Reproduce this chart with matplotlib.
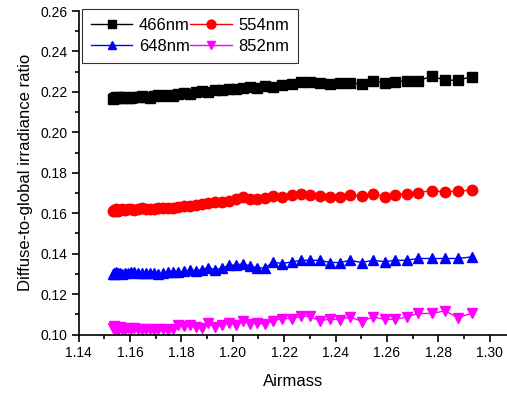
"""Diffuse-to-global irradiance ratio vs airmass for four wavelengths."""

import matplotlib
matplotlib.use("Agg")
import matplotlib.pyplot as plt
from matplotlib.ticker import MultipleLocator

plt.rcParams["font.family"] = ["Liberation Sans", "DejaVu Sans"]

# airmass values (shared by all series)
airmass = [
    1.1534, 1.1538, 1.1542, 1.1545, 1.1553, 1.1561, 1.1569, 1.1580, 1.1592,
    1.1604, 1.1616, 1.1631, 1.1647, 1.1662, 1.1678, 1.1693, 1.1709, 1.1728,
    1.1748, 1.1767, 1.1787, 1.1810, 1.1833, 1.1857, 1.1880, 1.1903, 1.1931,
    1.1958, 1.1985, 1.2013, 1.2040, 1.2067, 1.2094, 1.2125, 1.2156, 1.2191,
    1.2230, 1.2265, 1.2300, 1.2339, 1.2378, 1.2417, 1.2456, 1.2502, 1.2545,
    1.2592, 1.2631, 1.2677, 1.2720, 1.2775, 1.2825, 1.2876, 1.2930,
]

ratio_466 = [
    0.2165, 0.2172, 0.2168, 0.2175, 0.2170, 0.2173, 0.2168, 0.2175, 0.2172,
    0.2170, 0.2176, 0.2173, 0.2178, 0.2175, 0.2172, 0.2180, 0.2183, 0.2178,
    0.2185, 0.2182, 0.2190, 0.2193, 0.2188, 0.2198, 0.2202, 0.2200, 0.2207,
    0.2210, 0.2215, 0.2212, 0.2220, 0.2225, 0.2220, 0.2228, 0.2225, 0.2232,
    0.2238, 0.2248, 0.2250, 0.2245, 0.2239, 0.2242, 0.2245, 0.2239, 0.2255,
    0.2245, 0.2250, 0.2255, 0.2254, 0.2278, 0.2258, 0.2258, 0.2275,
]

ratio_554 = [
    0.1610, 0.1616, 0.1613, 0.1619, 0.1612, 0.1617, 0.1620, 0.1615, 0.1619,
    0.1622, 0.1617, 0.1621, 0.1624, 0.1620, 0.1623, 0.1622, 0.1626, 0.1624,
    0.1628, 0.1626, 0.1630, 0.1634, 0.1636, 0.1642, 0.1646, 0.1652, 0.1656,
    0.1654, 0.1660, 0.1670, 0.1678, 0.1672, 0.1668, 0.1673, 0.1686, 0.1680,
    0.1689, 0.1696, 0.1689, 0.1684, 0.1680, 0.1682, 0.1692, 0.1684, 0.1697,
    0.1682, 0.1692, 0.1697, 0.1702, 0.1712, 0.1705, 0.1710, 0.1714,
]

ratio_648 = [
    0.1298, 0.1305, 0.1300, 0.1308, 0.1302, 0.1305, 0.1300, 0.1306, 0.1303,
    0.1308, 0.1310, 0.1305, 0.1302, 0.1306, 0.1304, 0.1305, 0.1300, 0.1302,
    0.1307, 0.1310, 0.1309, 0.1312, 0.1318, 0.1316, 0.1321, 0.1331, 0.1321,
    0.1328, 0.1343, 0.1343, 0.1351, 0.1338, 0.1331, 0.1328, 0.1359, 0.1351,
    0.1359, 0.1367, 0.1367, 0.1367, 0.1356, 0.1356, 0.1367, 0.1356, 0.1367,
    0.1360, 0.1367, 0.1367, 0.1376, 0.1376, 0.1376, 0.1376, 0.1384,
]

ratio_852 = [
    0.1033, 0.1040, 0.1028, 0.1035, 0.1024, 0.1037, 0.1029, 0.1026, 0.1033,
    0.1025, 0.1030, 0.1026, 0.1021, 0.1028, 0.1026, 0.1024, 0.1027, 0.1026,
    0.1022, 0.1026, 0.1046, 0.1040, 0.1046, 0.1037, 0.1032, 0.1057, 0.1037,
    0.1046, 0.1057, 0.1046, 0.1067, 0.1054, 0.1057, 0.1051, 0.1067, 0.1079,
    0.1079, 0.1090, 0.1090, 0.1067, 0.1077, 0.1073, 0.1088, 0.1064, 0.1087,
    0.1075, 0.1075, 0.1087, 0.1104, 0.1104, 0.1117, 0.1084, 0.1105,
]

labels = ["466nm", "554nm", "648nm", "852nm"]

fig = plt.figure(figsize=(5.07, 3.94), dpi=100)
ax = fig.add_axes([0.155, 0.151, 0.845, 0.821])

l466, = ax.plot(airmass, ratio_466, color="black", marker="s", ms=6.5, lw=1, label=labels[0])
l554, = ax.plot(airmass, ratio_554, color="red", marker="o", ms=7.5, lw=1, label=labels[1])
l648, = ax.plot(airmass, ratio_648, color="blue", marker="^", ms=7.5, lw=1, label=labels[2])
l852, = ax.plot(airmass, ratio_852, color="magenta", marker="v", ms=7.5, lw=1, label=labels[3])

ax.set_xlim(1.14, 1.3067)
ax.set_ylim(0.10, 0.26)
ax.xaxis.set_major_locator(MultipleLocator(0.02))
ax.xaxis.set_minor_locator(MultipleLocator(0.01))
ax.yaxis.set_major_locator(MultipleLocator(0.02))
ax.yaxis.set_minor_locator(MultipleLocator(0.01))
ax.xaxis.set_major_formatter(plt.FormatStrFormatter("%.2f"))
ax.yaxis.set_major_formatter(plt.FormatStrFormatter("%.2f"))

ax.spines["top"].set_visible(False)
ax.spines["right"].set_visible(False)
ax.spines["left"].set_linewidth(1.2)
ax.spines["bottom"].set_linewidth(1.2)
ax.tick_params(which="major", direction="out", length=5, width=1.2, labelsize=10, pad=3)
ax.tick_params(which="minor", direction="out", length=3, width=1.2)

ax.set_xlabel("Airmass", fontsize=12, labelpad=10)
ax.set_ylabel("Diffuse-to-global irradiance ratio", fontsize=12, labelpad=5)

# legend fills column-wise, so order gives rows 466/554 and 648/852
handles = [l466, l648, l554, l852]
leg = ax.legend(handles, [h.get_label() for h in handles], ncol=2,
                loc="upper left", bbox_to_anchor=(0.007, 1.007),
                fontsize=12, frameon=True, fancybox=False, edgecolor="black",
                handlelength=2.5, handletextpad=0.4, columnspacing=0.0,
                labelspacing=0.35, borderpad=0.55, borderaxespad=0.0,
                markerscale=0.85)
leg.get_frame().set_linewidth(0.8)

fig.savefig("out.png", dpi=100)
